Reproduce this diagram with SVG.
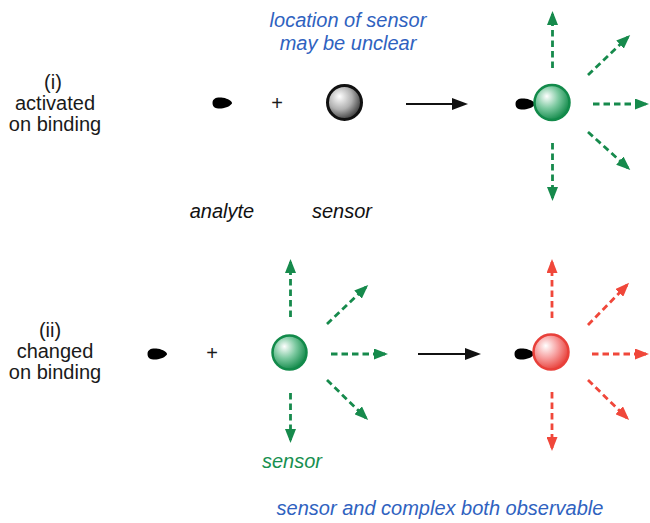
<svg xmlns="http://www.w3.org/2000/svg" width="650" height="523" viewBox="0 0 650 523">
<style>
text{font-family:"Liberation Sans",Arial,sans-serif;font-size:20px;text-anchor:middle}
.lab{fill:#1a1a1a}
.blue{fill:#2f62c0;font-style:italic}
.it{fill:#111;font-style:italic}
.gt{fill:#179050;font-style:italic}
.g{stroke:#168a4c;stroke-width:2.8;stroke-dasharray:6.5 4;fill:none;marker-end:url(#ag)}
.r{stroke:#f0473a;stroke-width:2.8;stroke-dasharray:6.5 4;fill:none;marker-end:url(#ar)}
.k{stroke:#111;stroke-width:2.2;fill:none;marker-end:url(#ak)}
.blob{fill:#000}
</style>
<defs>
<radialGradient id="gGray" cx="0.38" cy="0.38" r="0.65" fx="0.35" fy="0.32">
<stop offset="0" stop-color="#ffffff"/><stop offset="0.55" stop-color="#b0b0b0"/><stop offset="1" stop-color="#3a3a3a"/>
</radialGradient>
<radialGradient id="gGreen" cx="0.38" cy="0.38" r="0.65" fx="0.35" fy="0.32">
<stop offset="0" stop-color="#ffffff"/><stop offset="0.5" stop-color="#7cc9a0"/><stop offset="1" stop-color="#128a4a"/>
</radialGradient>
<radialGradient id="gRed" cx="0.38" cy="0.38" r="0.65" fx="0.35" fy="0.32">
<stop offset="0" stop-color="#ffffff"/><stop offset="0.5" stop-color="#f7a0a0"/><stop offset="1" stop-color="#e8403a"/>
</radialGradient>
<marker id="ag" markerUnits="userSpaceOnUse" markerWidth="14" markerHeight="11" refX="11" refY="5.5" orient="auto"><path d="M0,0 L14,5.5 L0,11 Z" fill="#168a4c"/></marker>
<marker id="ar" markerUnits="userSpaceOnUse" markerWidth="14" markerHeight="11" refX="11" refY="5.5" orient="auto"><path d="M0,0 L14,5.5 L0,11 Z" fill="#f0473a"/></marker>
<marker id="ak" markerUnits="userSpaceOnUse" markerWidth="16" markerHeight="12" refX="13" refY="6" orient="auto"><path d="M0,0 L16,6 L0,12 Z" fill="#111"/></marker>
<path id="drop" d="M-9.5,0 C-9.5,-6 -3,-6 1,-5.2 C6,-4.5 10,-1.5 10,0 C10,1.5 6,4.5 1,5.2 C-3,6 -9.5,6 -9.5,0 Z"/>
</defs>

<g id="label-i">
<text class="lab" x="53" y="89">(i)</text>
<text class="lab" x="55" y="110">activated</text>
<text class="lab" x="55" y="131">on binding</text>
</g>
<g id="label-ii">
<text class="lab" x="50" y="337">(ii)</text>
<text class="lab" x="55" y="358">changed</text>
<text class="lab" x="55" y="379">on binding</text>
</g>
<g id="note-top">
<text class="blue" x="348" y="27">location of sensor</text>
<text class="blue" x="348" y="50">may be unclear</text>
</g>
<g id="note-bottom"><text class="blue" x="440" y="515">sensor and complex both observable</text></g>

<g id="analyte1"><use href="#drop" class="blob" x="222" y="103"/></g>
<g id="plus1"><text class="lab" x="277" y="110">+</text></g>
<g id="sensor1"><circle cx="344.5" cy="102.5" r="17" fill="url(#gGray)" stroke="#111" stroke-width="3"/></g>
<g id="lbl-analyte"><text class="it" x="222" y="218">analyte</text></g>
<g id="lbl-sensor1"><text class="it" x="342" y="218">sensor</text></g>

<g id="complex1">
<use href="#drop" class="blob" x="525" y="104"/>
<circle cx="552" cy="102.5" r="17.5" fill="url(#gGreen)" stroke="#128a4a" stroke-width="2.5"/>
</g>

<g id="analyte2"><use href="#drop" class="blob" x="157" y="354"/></g>
<g id="plus2"><text class="lab" x="212" y="360">+</text></g>
<g id="sensor2"><circle cx="289.5" cy="352.5" r="17" fill="url(#gGreen)" stroke="#128a4a" stroke-width="2.5"/></g>
<g id="lbl-sensor2"><text class="gt" x="292" y="468">sensor</text></g>

<g id="complex2">
<use href="#drop" class="blob" x="524" y="354"/>
<circle cx="551" cy="352" r="17.5" fill="url(#gRed)" stroke="#e8403a" stroke-width="2.5"/>
</g>

<g id="connectors">
<line class="k" x1="406" y1="104" x2="465" y2="104"/>
<line class="k" x1="418" y1="354" x2="478" y2="354"/>

<line class="g" x1="552.5" y1="68" x2="552.5" y2="14"/>
<line class="g" x1="552.5" y1="143" x2="552.5" y2="198"/>
<line class="g" x1="593" y1="104" x2="646" y2="104"/>
<line class="g" x1="588" y1="75" x2="628" y2="37"/>
<line class="g" x1="588" y1="132" x2="628" y2="168"/>

<line class="g" x1="290.5" y1="317" x2="290.5" y2="262"/>
<line class="g" x1="290.5" y1="393" x2="290.5" y2="440"/>
<line class="g" x1="331" y1="354" x2="385" y2="354"/>
<line class="g" x1="327" y1="324" x2="366" y2="287"/>
<line class="g" x1="327" y1="380" x2="366" y2="418"/>

<line class="r" x1="552" y1="318" x2="552" y2="262"/>
<line class="r" x1="552" y1="392" x2="552" y2="448"/>
<line class="r" x1="592" y1="354" x2="646" y2="354"/>
<line class="r" x1="588" y1="325" x2="627" y2="285"/>
<line class="r" x1="588" y1="380" x2="627" y2="418"/>
</g>
</svg>
